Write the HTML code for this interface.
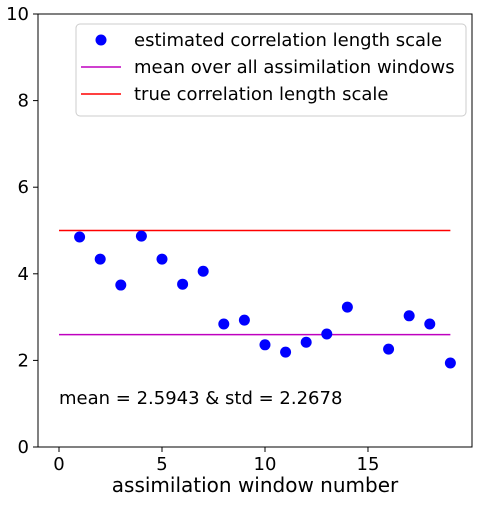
<!DOCTYPE html>
<html><head><meta charset="utf-8"><style>
body{margin:0;background:#fff;}
svg text{font-family:"DejaVu Sans","Liberation Sans",sans-serif;fill:#000;}
</style></head><body>
<svg id="chart" width="478" height="502" viewBox="0 0 478 502" xmlns="http://www.w3.org/2000/svg"></svg>
<script>
const xs=[1,2,3,4,5,6,7,8,9,10,11,12,13,14,16,17,18,19];
const ys=[4.85,4.34,3.74,4.87,4.34,3.76,4.06,2.84,2.93,2.36,2.19,2.42,2.61,3.23,2.26,3.03,2.84,1.94];
const meanVal=2.5943;
const trueVal=5;
const xTicks=[0,5,10,15];
const yTicks=[0,2,4,6,8,10];
const L=38,R=472,T=14,B=447;
const xmin=-1.02,xmax=20.05,ymin=0,ymax=10;
const X=v=>L+(v-xmin)/(xmax-xmin)*(R-L);
const Y=v=>B-(v-ymin)/(ymax-ymin)*(B-T);
const svg=document.getElementById('chart');
const NS='http://www.w3.org/2000/svg';
function mk(tag,attrs,parent){const e=document.createElementNS(NS,tag);for(const k in attrs)e.setAttribute(k,attrs[k]);(parent||svg).appendChild(e);return e;}
let e;
e=mk('line',{x1:X(0),x2:X(19),y1:Y(trueVal),y2:Y(trueVal),stroke:'#ff0000','stroke-width':1.5});


e=mk('line',{x1:X(0),x2:X(19),y1:Y(meanVal),y2:Y(meanVal),stroke:'#bf00bf','stroke-width':1.5});


xs.forEach((x,i)=>{
 const c=mk('circle',{cx:X(x),cy:Y(ys[i]),r:5.5,fill:'#0000ff'});
 
 
});
e=mk('rect',{x:L,y:T,width:R-L,height:B-T,fill:'none',stroke:'#000','stroke-width':1});


xTicks.forEach(t=>{
 mk('line',{x1:X(t),x2:X(t),y1:B,y2:B+5,stroke:'#000'});
 const tx=mk('text',{x:X(t),y:B+23,'text-anchor':'middle','font-size':18});
 tx.textContent=t;
 
 
});
yTicks.forEach(t=>{
 mk('line',{x1:L-5,x2:L,y1:Y(t),y2:Y(t),stroke:'#000'});
 const tx=mk('text',{x:L-9,y:Y(t)+6,'text-anchor':'end','font-size':18});
 tx.textContent=t;
 
 
});
e=mk('text',{x:(L+R)/2,y:492,'text-anchor':'middle','font-size':20});
e.textContent='assimilation window number';


e=mk('text',{x:59,y:404,'font-size':18});
e.textContent='mean = 2.5943 & std = 2.2678';


const lg=mk('g',{});


mk('rect',{x:76,y:24,width:390,height:92,rx:4,fill:'#fff','fill-opacity':0.8,stroke:'#ccc'},lg);
const entries=[['estimated correlation length scale','dot','#0000ff'],['mean over all assimilation windows','line','#bf00bf'],['true correlation length scale','line','#ff0000']];
entries.forEach((en,i)=>{
 const cy=40+i*27;
 if(en[1]==='dot')mk('circle',{cx:101,cy:cy,r:5.5,fill:en[2]},lg);
 else mk('line',{x1:81,x2:121,y1:cy,y2:cy,stroke:en[2],'stroke-width':1.5},lg);
 const t=mk('text',{x:134,y:cy+6,'font-size':18},lg);
 t.textContent=en[0];
 
 
});
</script>
</body></html>
